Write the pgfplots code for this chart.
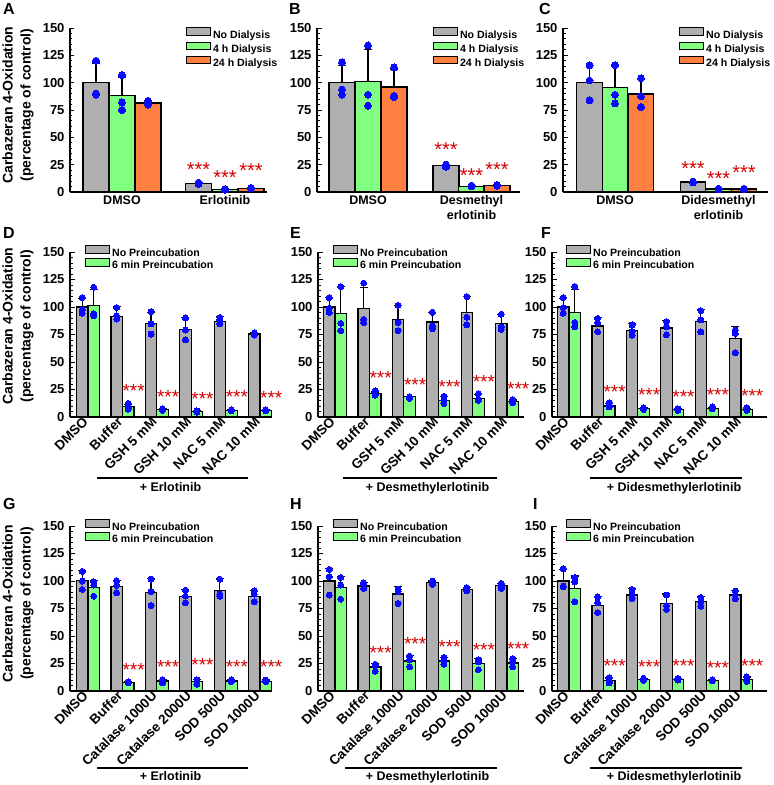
\documentclass[border=0pt]{standalone}
\usepackage{fontspec}
\setmainfont{Liberation Sans}
\usepackage{pgfplots}
\pgfplotsset{compat=1.18}

\definecolor{barGray}{RGB}{175,175,175}
\definecolor{barGreen}{RGB}{128,255,128}
\definecolor{barOrange}{RGB}{255,128,64}
\definecolor{dotBlue}{RGB}{10,10,255}
\definecolor{starRed}{RGB}{215,0,0}

\newcommand{\fs}[1]{\fontsize{#1}{#1}\selectfont}
% significance marks: centred over a bar (top row) or starting at a bar's left edge
\newcommand{\starc}[2]{\node[text=starRed, font=\fs{20}, anchor=base, inner sep=0pt, yshift=-11.5pt] at (axis cs:#1,#2) {***};}
\newcommand{\starw}[2]{\node[text=starRed, font=\fs{19}, anchor=base west, inner sep=0pt, yshift=-11pt] at (axis cs:#1,#2) {***};}

\pgfplotsset{
  panel/.style={
    scale only axis, anchor=south west, clip=false,
    axis lines=left, axis line style={-, line width=1.3pt, black},
    ymin=0, ymax=150, ytick={0,25,...,150}, minor y tick num=4,
    tick align=inside, major tick length=4.5pt, minor tick length=2.5pt,
    every tick/.style={black, line width=0.9pt},
    xtick style={draw=none},
    yticklabel style={font=\bfseries\fs{13}, xshift=-2pt},
    /pgf/number format/assume math mode=true,
    legend cell align=left,
    legend style={draw=none, fill=none, inner sep=0pt, outer sep=0pt, anchor=north west,
      row sep=0.5pt, column sep=1pt, font=\bfseries\fontsize{10.6}{12}\selectfont,
      nodes={inner sep=1pt, text height=7.5pt, text depth=2pt}},
    ylabel style={align=center, font=\bfseries\fontsize{14}{18}\selectfont},
  },
  toprow/.style={height=164pt,
    xticklabel style={font=\bfseries\fontsize{12.5}{15}\selectfont, align=center}},
  lowrow/.style={height=165pt,
    xticklabel style={rotate=45, anchor=east, font=\bfseries\fs{13.5}},
    legend style={row sep=-1pt}},
  boxlegend/.style={legend image code/.code={\draw[##1, line width=1.1pt] (0pt,0pt) rectangle (24pt,7.5pt);}},
  bars/.style 2 args={ybar, bar shift=0pt, bar width=#1, draw=black, line width=1.2pt, fill=#2, boxlegend,
    error bars/y dir=plus, error bars/y explicit,
    error bars/error bar style={line width=1.2pt, black},
    error bars/error mark options={rotate=90, mark size=4pt, line width=1.2pt, black}},
  dots/.style={only marks, mark=*, mark size=#1, mark options={fill=dotBlue, draw=dotBlue, line width=0pt}, forget plot},
}

\begin{document}
\begin{tikzpicture}
\path[use as bounding box] (0pt,0pt) rectangle (774pt,785pt);

% ---------------- A ----------------
\begin{axis}[panel, toprow, at={(70pt,593pt)}, width=197pt, xmin=70, xmax=267,
  xtick={122,225}, xticklabels={DMSO,Erlotinib},
  ylabel={Carbazeran 4-Oxidation\\(percentage of control)},
  ylabel style={at={(axis description cs:-0.264,0.53)}, anchor=center},
  legend style={at={(0.5888,1.0046)}}]
\addplot[bars={26}{barGray}] coordinates {(96,100) +- (0,18) (198.5,7.6) +- (0,1)};
\addlegendentry{No Dialysis}
\addplot[bars={26}{barGreen}] coordinates {(122,88) +- (0,17) (225,2.4) +- (0,0.5)};
\addlegendentry{4 h Dialysis}
\addplot[bars={26}{barOrange}] coordinates {(148,81.4) +- (0,2.5) (251,3.4) +- (0,0.5)};
\addlegendentry{24 h Dialysis}
\addplot[dots=3.5pt] coordinates {(96,120) (96,90) (96,89) (198.5,8.5) (198.5,8) (198.5,7.5)};
\addplot[dots=3.5pt] coordinates {(122,107) (122,82) (122,75) (225,2.5) (225,2.2) (225,2)};
\addplot[dots=3.5pt] coordinates {(148,83.5) (148,81) (148,80) (251,3.6) (251,3.4) (251,3.2)};
\starc{198.5}{25}\starc{225}{17}\starc{251}{24}
\end{axis}

% ---------------- B ----------------
\begin{axis}[panel, toprow, at={(317pt,593pt)}, width=203pt, xmin=317, xmax=520,
  xtick={368,471.5}, xticklabels={DMSO,{Desmethyl\\erlotinib}},
  legend style={at={(0.5714,1.0046)}}]
\addplot[bars={26}{barGray}] coordinates {(342,100) +- (0,16) (446,24) +- (0,1)};
\addlegendentry{No Dialysis}
\addplot[bars={26}{barGreen}] coordinates {(368,101) +- (0,29) (471.5,5.2) +- (0,0.6)};
\addlegendentry{4 h Dialysis}
\addplot[bars={26}{barOrange}] coordinates {(394,96) +- (0,16) (497,5.8) +- (0,0.6)};
\addlegendentry{24 h Dialysis}
\addplot[dots=3.5pt] coordinates {(342,118.6) (342,93.6) (342,89) (446,25) (446,24) (446,23)};
\addplot[dots=3.5pt] coordinates {(368,134) (368,89) (368,79) (471.5,5.8) (471.5,5.5) (471.5,5.2)};
\addplot[dots=3.5pt] coordinates {(394,114) (394,88) (394,86.6) (497,6.4) (497,6) (497,5.8)};
\starc{446}{42.7}\starc{471.5}{19}\starc{497}{25}
\end{axis}

% ---------------- C ----------------
\begin{axis}[panel, toprow, at={(563pt,593pt)}, width=205pt, xmin=563, xmax=768,
  xtick={615,718.5}, xticklabels={DMSO,{Didesmethyl\\erlotinib}},
  legend style={at={(0.5659,1.0046)}}]
\addplot[bars={25.5}{barGray}] coordinates {(589.5,100) +- (0,16) (693,9.1) +- (0,0.5)};
\addlegendentry{No Dialysis}
\addplot[bars={25.5}{barGreen}] coordinates {(615,95.7) +- (0,19) (718.5,2.7) +- (0,0.3)};
\addlegendentry{4 h Dialysis}
\addplot[bars={25.5}{barOrange}] coordinates {(641,89.6) +- (0,14) (744,2.7) +- (0,0.3)};
\addlegendentry{24 h Dialysis}
\addplot[dots=3.5pt] coordinates {(589.5,116) (589.5,102) (589.5,84) (693,9.5) (693,9) (693,8.8)};
\addplot[dots=3.5pt] coordinates {(615,116) (615,89) (615,81) (718.5,3) (718.5,2.8) (718.5,2.6)};
\addplot[dots=3.5pt] coordinates {(641,104) (641,87.5) (641,77.7) (744,3) (744,2.8) (744,2.6)};
\starc{693}{26}\starc{718.5}{16.5}\starc{744}{22}
\end{axis}

% ---------------- D ----------------
\begin{axis}[panel, lowrow, at={(70pt,368pt)}, width=202pt, xmin=70, xmax=272,
  xtick={88,122.4,156.8,191.2,225.6,260},
  xticklabels={DMSO,Buffer,GSH 5 mM,GSH 10 mM,NAC 5 mM,NAC 10 mM},
  ylabel={Carbazeran 4-Oxidation\\(percentage of control)},
  ylabel style={at={(axis description cs:-0.257,0.55)}, anchor=center},
  legend style={at={(0.0743,1.041)}}]
\addplot[bars={11.5}{barGray}] coordinates {(82.25,100) +- (0,8) (116.65,91.3) +- (0,9) (151.05,85.2) +- (0,10) (185.45,79.4) +- (0,11) (219.85,86.7) +- (0,5) (254.25,75.4) +- (0,1.5)};
\addlegendentry{No Preincubation}
\addplot[bars={11.5}{barGreen}] coordinates {(93.75,101.6) +- (0,14.5) (128.15,9.7) +- (0,2) (162.55,6.7) +- (0,0.5) (196.95,5.2) +- (0,0.5) (231.35,6.1) +- (0,0.5) (265.75,6) +- (0,0.5)};
\addlegendentry{6 min Preincubation}
\addplot[dots=3pt] coordinates {(82.25,108.6) (82.25,97.4) (82.25,94.3) (116.65,99.5) (116.65,92) (116.65,89) (151.05,95.8) (151.05,84.6) (151.05,75.4) (185.45,90) (185.45,79) (185.45,70) (219.85,90.5) (219.85,88.5) (219.85,84.6) (254.25,76.5) (254.25,75) (254.25,74.5)};
\addplot[dots=3pt] coordinates {(93.75,118) (93.75,94) (93.75,92) (128.15,12.5) (128.15,8.5) (128.15,7) (162.55,7.3) (162.55,6.5) (162.55,6) (196.95,5.5) (196.95,5) (196.95,4.5) (231.35,6.7) (231.35,6) (231.35,5.5) (265.75,6.5) (265.75,6) (265.75,5.5)};
\starw{122.4}{28}\starw{156.8}{22}\starw{191.2}{20.7}\starw{225.6}{22}\starw{260}{21.5}
\end{axis}

% ---------------- E ----------------
\begin{axis}[panel, lowrow, at={(318pt,368pt)}, width=206pt, xmin=318, xmax=524,
  xtick={335,369.4,403.8,438.2,472.6,507},
  xticklabels={DMSO,Buffer,GSH 5 mM,GSH 10 mM,NAC 5 mM,NAC 10 mM},
  legend style={at={(0.0728,1.041)}}]
\addplot[bars={11.5}{barGray}] coordinates {(329.25,100) +- (0,8.6) (363.65,98.9) +- (0,19) (398.05,88.8) +- (0,12.2) (432.45,86.4) +- (0,8.8) (466.85,95) +- (0,14.5) (501.25,85.2) +- (0,8.2)};
\addlegendentry{No Preincubation}
\addplot[bars={11.5}{barGreen}] coordinates {(340.75,94.3) +- (0,24) (375.15,21.3) +- (0,1.5) (409.55,18.3) +- (0,0.5) (443.95,15.2) +- (0,3.2) (478.35,17) +- (0,3.5) (512.75,14) +- (0,1.5)};
\addlegendentry{6 min Preincubation}
\addplot[dots=3pt] coordinates {(329.25,108.6) (329.25,98.9) (329.25,95) (363.65,121.7) (363.65,88.8) (363.65,85.8) (398.05,101.6) (398.05,85.8) (398.05,78.5) (432.45,95.2) (432.45,82.7) (432.45,80.3) (466.85,109.5) (466.85,90.7) (466.85,83.7) (501.25,93.4) (501.25,82.1) (501.25,79.7)};
\addplot[dots=3pt] coordinates {(340.75,118.6) (340.75,85.2) (340.75,78.5) (375.15,23.7) (375.15,20.5) (375.15,19.8) (409.55,18.3) (409.55,17.5) (409.55,17) (443.95,18.9) (443.95,15) (443.95,12.2) (478.35,21.3) (478.35,15.8) (478.35,15) (512.75,15.8) (512.75,14) (512.75,12.8)};
\starw{369.4}{39.5}\starw{403.8}{33.5}\starw{438.2}{31.3}\starw{472.6}{35.9}\starw{507}{29.8}
\end{axis}

% ---------------- F ----------------
\begin{axis}[panel, lowrow, at={(552pt,368pt)}, width=215pt, xmin=552, xmax=767,
  xtick={569,603.4,637.8,672.2,706.6,741},
  xticklabels={DMSO,Buffer,GSH 5 mM,GSH 10 mM,NAC 5 mM,NAC 10 mM},
  legend style={at={(0.0651,1.041)}}]
\addplot[bars={11.5}{barGray}] coordinates {(563.25,100) +- (0,8) (597.65,82.7) +- (0,8) (632.05,78.5) +- (0,6.7) (666.45,80.9) +- (0,6.7) (700.85,86.7) +- (0,10.7) (735.25,71.5) +- (0,10.6)};
\addlegendentry{No Preincubation}
\addplot[bars={11.5}{barGreen}] coordinates {(574.75,95) +- (0,21) (609.15,10) +- (0,2) (643.55,7.6) +- (0,0.5) (677.95,7) +- (0,0.5) (712.35,7.9) +- (0,0.8) (746.75,7) +- (0,0.8)};
\addlegendentry{6 min Preincubation}
\addplot[dots=3pt] coordinates {(563.25,108.6) (563.25,99.5) (563.25,94.3) (597.65,89.7) (597.65,85.8) (597.65,77.6) (632.05,83.7) (632.05,77.6) (632.05,74.5) (666.45,86.7) (666.45,82.1) (666.45,74.8) (700.85,96.7) (700.85,88.2) (700.85,77.3) (735.25,79) (735.25,76) (735.25,58.4)};
\addplot[dots=3pt] coordinates {(574.75,118.6) (574.75,86) (574.75,82) (609.15,12.8) (609.15,10) (609.15,9.1) (643.55,8.5) (643.55,7.5) (643.55,6.7) (677.95,7.3) (677.95,6.8) (677.95,6) (712.35,9.1) (712.35,8) (712.35,7.3) (746.75,8.5) (746.75,6.7) (746.75,6)};
\starw{603.4}{26.8}\starw{637.8}{23.7}\starw{672.2}{22.5}\starw{706.6}{23.7}\starw{741}{23.1}
\end{axis}

% ---------------- G ----------------
\begin{axis}[panel, lowrow, at={(70pt,94pt)}, width=202pt, xmin=70, xmax=272,
  xtick={88,122.4,156.8,191.2,225.6,260},
  xticklabels={DMSO,Buffer,Catalase 1000U,Catalase 2000U,SOD 500U,SOD 1000U},
  ylabel={Carbazeran 4-Oxidation\\(percentage of control)},
  ylabel style={at={(axis description cs:-0.257,0.53)}, anchor=center},
  legend style={at={(0.0743,1.041)}}]
\addplot[bars={11.5}{barGray}] coordinates {(82.25,100.2) +- (0,9) (116.65,94.7) +- (0,6) (151.05,89.9) +- (0,12.4) (185.45,85.6) +- (0,6.7) (219.85,91.7) +- (0,10.3) (254.25,86.2) +- (0,5.5)};
\addlegendentry{No Preincubation}
\addplot[bars={11.5}{barGreen}] coordinates {(93.75,93.8) +- (0,7) (128.15,7.6) +- (0,0.6) (162.55,9.1) +- (0,1.2) (196.95,8.5) +- (0,1.8) (231.35,9.1) +- (0,1.2) (265.75,9) +- (0,1)};
\addlegendentry{6 min Preincubation}
\addplot[dots=3pt] coordinates {(82.25,108.7) (82.25,99.9) (82.25,92.3) (116.65,100.2) (116.65,96) (116.65,89.3) (151.05,101.7) (151.05,90.2) (151.05,77.7) (185.45,91.7) (185.45,86.2) (185.45,80.2) (219.85,101.7) (219.85,88.1) (219.85,86.2) (254.25,91.1) (254.25,88.1) (254.25,81.1)};
\addplot[dots=3pt] coordinates {(93.75,99.3) (93.75,96.3) (93.75,86.2) (128.15,8.2) (128.15,7.8) (128.15,7.4) (162.55,10.3) (162.55,9) (162.55,7.3) (196.95,10.3) (196.95,8.5) (196.95,6.1) (231.35,10.3) (231.35,9) (231.35,8.5) (265.75,10) (265.75,9) (265.75,8.5)};
\starw{122.4}{22.8}\starw{156.8}{25.5}\starw{191.2}{27.3}\starw{225.6}{25.5}\starw{260}{25.5}
\end{axis}

% ---------------- H ----------------
\begin{axis}[panel, lowrow, at={(318pt,94pt)}, width=206pt, xmin=318, xmax=524,
  xtick={335,369.4,403.8,438.2,472.6,507},
  xticklabels={DMSO,Buffer,Catalase 1000U,Catalase 2000U,SOD 500U,SOD 1000U},
  legend style={at={(0.0728,1.041)}}]
\addplot[bars={11.5}{barGray}] coordinates {(329.25,100) +- (0,11.4) (363.65,95.4) +- (0,3) (398.05,88.1) +- (0,6.6) (432.45,99) +- (0,1) (466.85,92.6) +- (0,1.2) (501.25,95.7) +- (0,2)};
\addlegendentry{No Preincubation}
\addplot[bars={11.5}{barGreen}] coordinates {(340.75,94.1) +- (0,9.8) (375.15,21.9) +- (0,3) (409.55,27.3) +- (0,5.2) (443.95,27.3) +- (0,3) (478.35,24.9) +- (0,4.6) (512.75,25.5) +- (0,4)};
\addlegendentry{6 min Preincubation}
\addplot[dots=3pt] coordinates {(329.25,110.5) (329.25,103.9) (329.25,87.2) (363.65,98.4) (363.65,96.9) (363.65,93.2) (398.05,92.6) (398.05,90.5) (398.05,79.6) (432.45,99.9) (432.45,97.8) (432.45,96.9) (466.85,93.8) (466.85,92.5) (466.85,91.1) (501.25,97.8) (501.25,94.7) (501.25,93.2)};
\addplot[dots=3pt] coordinates {(340.75,103.2) (340.75,96.3) (340.75,83.5) (375.15,24.3) (375.15,23) (375.15,17.9) (409.55,31.6) (409.55,28.5) (409.55,21.9) (443.95,30.4) (443.95,27.3) (443.95,24.3) (478.35,28.5) (478.35,26.5) (478.35,19.4) (512.75,29.5) (512.75,26.4) (512.75,21.9)};
\starw{369.4}{38.6}\starw{403.8}{47.1}\starw{438.2}{43.7}\starw{472.6}{41.6}\starw{507}{42.2}
\end{axis}

% ---------------- I ----------------
\begin{axis}[panel, lowrow, at={(552pt,94pt)}, width=215pt, xmin=552, xmax=767,
  xtick={569,603.4,637.8,672.2,706.6,741},
  xticklabels={DMSO,Buffer,Catalase 1000U,Catalase 2000U,SOD 500U,SOD 1000U},
  legend style={at={(0.0651,1.041)}}]
\addplot[bars={11.5}{barGray}] coordinates {(563.25,100) +- (0,10.5) (597.65,78) +- (0,8.2) (632.05,87.2) +- (0,6) (666.45,79.9) +- (0,8.2) (700.85,81.1) +- (0,5.1) (735.25,87.2) +- (0,4.5)};
\addlegendentry{No Preincubation}
\addplot[bars={11.5}{barGreen}] coordinates {(574.75,93.2) +- (0,11.3) (609.15,9.4) +- (0,2.5) (643.55,10.3) +- (0,1.2) (677.95,10.6) +- (0,1) (712.35,9.7) +- (0,0.6) (746.75,10.6) +- (0,2.2)};
\addlegendentry{6 min Preincubation}
\addplot[dots=3pt] coordinates {(563.25,111.1) (563.25,95.4) (563.25,94.7) (597.65,85.6) (597.65,80.2) (597.65,71.4) (632.05,92.3) (632.05,87.2) (632.05,84.1) (666.45,87.2) (666.45,77.7) (666.45,74.1) (700.85,85) (700.85,81.1) (700.85,77.1) (735.25,90.8) (735.25,87.2) (735.25,83.8)};
\addplot[dots=3pt] coordinates {(574.75,103.2) (574.75,99.3) (574.75,81.1) (609.15,12.1) (609.15,9) (609.15,7.3) (643.55,11.5) (643.55,10.3) (643.55,9.7) (677.95,11.5) (677.95,10.3) (677.95,10) (712.35,10.3) (712.35,9.7) (712.35,9.3) (746.75,12.8) (746.75,10.5) (746.75,8.8)};
\starw{603.4}{26.4}\starw{637.8}{25.5}\starw{672.2}{27}\starw{706.6}{24.9}\starw{741}{27}
\end{axis}

% panel letters
\begin{scope}[every node/.style={font=\bfseries\fs{16}, anchor=base west, inner sep=0pt}]
\node at (3pt,770pt) {A}; \node at (289pt,770pt) {B}; \node at (539pt,770pt) {C};
\node at (3pt,546pt) {D}; \node at (290pt,546pt) {E}; \node at (541pt,546pt) {F};
\node at (3pt,275pt) {G}; \node at (290pt,275pt) {H}; \node at (533pt,275pt) {I};
\end{scope}

% treatment brackets
\begin{scope}[line width=1.1pt, every node/.style={font=\bfseries\fs{12.5}, anchor=base, inner sep=0pt}]
\draw (97pt,307pt) -- (248pt,307pt);  \node at (170.5pt,293.5pt) {+ Erlotinib};
\draw (343pt,307pt) -- (497pt,307pt); \node at (427.5pt,293.5pt) {+ Desmethylerlotinib};
\draw (590pt,307pt) -- (742pt,307pt); \node at (674pt,293.5pt) {+ Didesmethylerlotinib};
\draw (97pt,17pt) -- (248pt,17pt);    \node at (170.5pt,4.5pt) {+ Erlotinib};
\draw (345pt,17pt) -- (497pt,17pt);   \node at (427.5pt,4.5pt) {+ Desmethylerlotinib};
\draw (590pt,17pt) -- (742pt,17pt);   \node at (674pt,4.5pt) {+ Didesmethylerlotinib};
\end{scope}
\end{tikzpicture}
\end{document}
